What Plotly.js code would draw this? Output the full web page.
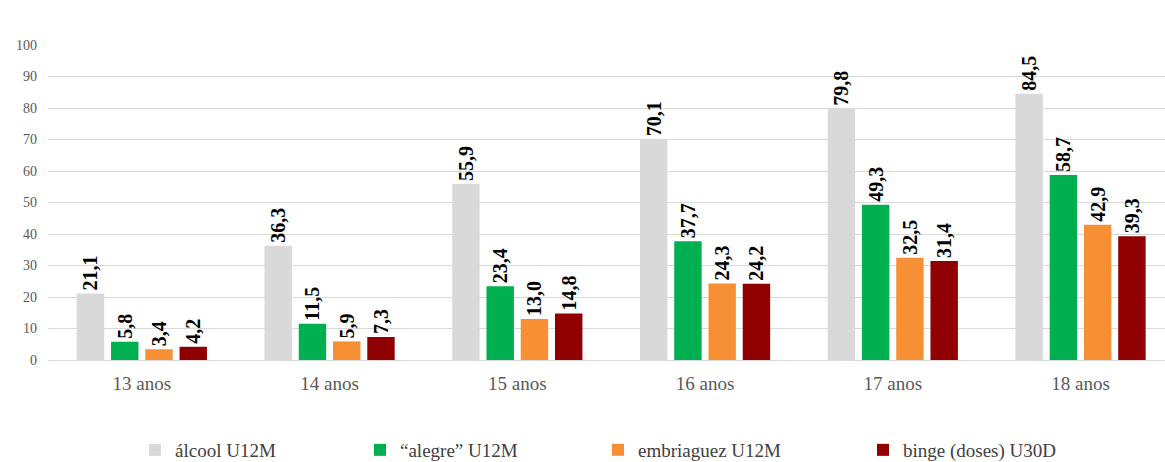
<!DOCTYPE html>
<html>
<head>
<meta charset="utf-8">
<script src="https://cdn.plot.ly/plotly-3.0.1.min.js"></script>
<style>html,body{margin:0;padding:0;background:#fff}#chart{width:1165px;height:462px}</style>
</head>
<body>
<div id="chart"></div>
<script>
const categories = ["13 anos", "14 anos", "15 anos", "16 anos", "17 anos", "18 anos"];
const seriesNames = ["álcool U12M", "“alegre” U12M", "embriaguez U12M", "binge (doses) U30D"];
const alcool = [21.1, 36.3, 55.9, 70.1, 79.8, 84.5];
const alegre = [5.8, 11.5, 23.4, 37.7, 49.3, 58.7];
const embriaguez = [3.4, 5.9, 13.0, 24.3, 32.5, 42.9];
const binge = [4.2, 7.3, 14.8, 24.2, 31.4, 39.3];
const yTicks = [0, 10, 20, 30, 40, 50, 60, 70, 80, 90, 100];

const colors = ["#D9D9D9", "#00B050", "#F79034", "#900000"];
const values = [alcool, alegre, embriaguez, binge];
const legendIds = ["legend", "legend2", "legend3", "legend4"];
const legendX = [135, 360, 598, 863];
const FONT = "'Liberation Serif', 'Times New Roman', serif";

const traces = values.map((v, i) => ({
  type: "bar",
  name: seriesNames[i],
  x: categories,
  y: v,
  marker: {color: colors[i], line: {width: 0}},
  texttemplate: "%{y:.1f}\u00a0",
  textposition: "outside",
  textangle: -90,
  cliponaxis: false,
  constraintext: "none",
  textfont: {family: FONT, size: 20, color: "#000", weight: "bold"},
  legend: legendIds[i],
  hoverinfo: "skip"
}));

const layout = {
  width: 1165, height: 462,
  margin: {l: 48, r: 0, t: 45, b: 102},
  paper_bgcolor: "#fff", plot_bgcolor: "#fff",
  separators: ",.",
  barmode: "group",
  bargap: 0.27,
  bargroupgap: 0.2,
  font: {family: FONT, color: "#595959"},
  xaxis: {
    type: "category",
    range: [-0.5, 5.45],
    showgrid: false,
    showline: true, linecolor: "#D9D9D9", linewidth: 1,
    ticks: "",
    tickfont: {family: FONT, size: 19, color: "#595959"},
    ticklabelstandoff: 6,
    fixedrange: true
  },
  yaxis: {
    range: [0, 100],
    tickvals: yTicks,
    showgrid: true, gridcolor: "#D9D9D9", gridwidth: 1,
    zeroline: false,
    showline: false,
    ticks: "",
    tickfont: {family: FONT, size: 14, color: "#595959"},
    ticklabelstandoff: 10,
    fixedrange: true
  },
  showlegend: true
};

legendIds.forEach((id, i) => {
  layout[id] = {
    xref: "container", yref: "container",
    x: legendX[i] / 1165, y: 1 - 450 / 462,
    xanchor: "left", yanchor: "middle",
    orientation: "h",
    bgcolor: "rgba(0,0,0,0)",
    font: {family: FONT, size: 19, color: "#404040"},
    itemwidth: 30
  };
});

Plotly.newPlot("chart", traces, layout, {displayModeBar: false, staticPlot: true});
</script>
</body>
</html>
